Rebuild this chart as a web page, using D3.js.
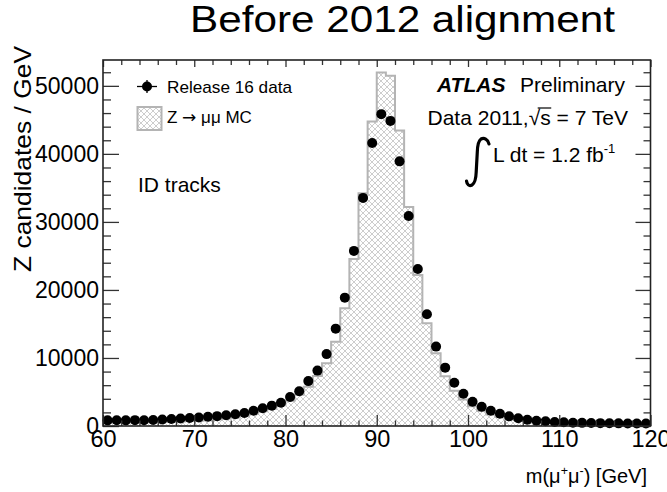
<!DOCTYPE html>
<html>
<head>
<meta charset="utf-8">
<script src="https://cdn.jsdelivr.net/npm/d3@7"></script>
<style>
  html, body { margin: 0; padding: 0; background: #fff; }
  svg { display: block; }
  text { font-family: "Liberation Sans", Arial, Helvetica, sans-serif; fill: #000; }
</style>
</head>
<body>
<svg id="chart" width="667" height="492"></svg>
<script>
// Dimuon invariant-mass spectrum, 1 GeV bins from 60 to 120 GeV
const binLow = d3.range(60, 120, 1);

// Release 16 data, Z candidates per GeV
const dataCounts = [
  830, 840, 830, 860, 850, 880, 960, 1030, 1100, 1180,
  1260, 1350, 1450, 1580, 1720, 1900, 2250, 2600, 2990, 3430,
  4260, 5100, 6600, 8140, 10570, 14310, 18870, 25740, 33530, 41600,
  45840, 44850, 38900, 30880, 23090, 16420, 11670, 8580, 6370, 4750,
  3570, 2840, 2250, 1810, 1420, 1130, 930, 780, 690, 590,
  540, 490, 460, 440, 420, 400, 390, 380, 370, 360
];

// Z -> mu mu Monte Carlo prediction, Z candidates per GeV
const mcCounts = [
  490, 500, 510, 530, 550, 570, 600, 630, 670, 720,
  780, 850, 950, 1080, 1250, 1470, 1750, 2150, 2550, 3050,
  3700, 4600, 5780, 7350, 9220, 12400, 17300, 24560, 34220, 44750,
  51960, 51470, 43430, 32200, 22200, 15100, 10700, 7300, 5200, 3900,
  2900, 2200, 1700, 1350, 1080, 880, 720, 600, 510, 440,
  390, 350, 320, 300, 280, 265, 250, 240, 230, 220
];

const xMajorTicks = [60, 70, 80, 90, 100, 110, 120];
const xMinorTicks = d3.range(62, 120, 2).filter(v => v % 10 !== 0);
const yMajorTicks = [0, 10000, 20000, 30000, 40000, 50000];
const yMinorTicks = d3.range(2000, 54000, 2000).filter(v => v % 10000 !== 0);

const svg = d3.select("#chart");
const L = 103, R = 650.5, T = 60, B = 426;

const x = d3.scaleLinear().domain([60, 120]).range([L, R]);
const y = d3.scaleLinear().domain([0, 53800]).range([B, T]);

// cross-hatch pattern for the MC histogram
const defs = svg.append("defs");
const pat = defs.append("pattern")
  .attr("id", "hatch").attr("patternUnits", "userSpaceOnUse")
  .attr("width", 6).attr("height", 6);
pat.append("rect").attr("width", 6).attr("height", 6).attr("fill", "#fff");
pat.append("path").attr("d", "M0,0 L6,6 M6,0 L0,6")
  .attr("stroke", "#cdcdcd").attr("stroke-width", 1);

// MC histogram (step outline)
const mcPts = binLow.map((b, i) => [b, mcCounts[i]]).concat([[120, mcCounts[mcCounts.length - 1]]]);
const area = d3.area()
  .x(d => x(d[0])).y0(y(0)).y1(d => y(d[1]))
  .curve(d3.curveStepAfter);
svg.append("path").datum(mcPts).attr("d", area).attr("fill", "url(#hatch)");
const stepLine = d3.line().x(d => x(d[0])).y(d => y(d[1])).curve(d3.curveStepAfter);
svg.append("path").datum(mcPts).attr("d", stepLine)
  .attr("fill", "none").attr("stroke", "#b4b4b4").attr("stroke-width", 2);

// data points
svg.append("g").selectAll("circle")
  .data(binLow.map((b, i) => [b + 0.5, dataCounts[i]]))
  .join("circle")
  .attr("cx", d => x(d[0])).attr("cy", d => y(d[1])).attr("r", 5)
  .attr("fill", "#000");

// axes: ticks drawn inward on all four sides
const tickColor = "#333";
function axisG(axis, tx, ty) {
  const g = svg.append("g").attr("transform", `translate(${tx},${ty})`).call(axis);
  g.select(".domain").remove();
  g.selectAll(".tick line").attr("stroke", tickColor).attr("stroke-width", 1.3);
  return g;
}
// bottom
const bx = axisG(d3.axisBottom(x).tickValues(xMajorTicks).tickSizeInner(-11).tickSizeOuter(0)
  .tickFormat(d3.format("d")), 0, B);
bx.selectAll("text").attr("font-size", 23.5).attr("font-family", null).attr("dy", "0.71em").attr("y", 4.5);
axisG(d3.axisBottom(x).tickValues(xMinorTicks).tickSizeInner(-5.5).tickSizeOuter(0).tickFormat(""), 0, B);
// top
axisG(d3.axisTop(x).tickValues(xMajorTicks).tickSizeInner(-7).tickSizeOuter(0).tickFormat(""), 0, T);
axisG(d3.axisTop(x).tickValues(xMinorTicks).tickSizeInner(-5).tickSizeOuter(0).tickFormat(""), 0, T);
// left
const ly = axisG(d3.axisLeft(y).tickValues(yMajorTicks).tickSizeInner(-16).tickSizeOuter(0)
  .tickFormat(d3.format("d")), L, 0);
ly.selectAll("text").attr("font-size", 23).attr("font-family", null).attr("x", -4);
axisG(d3.axisLeft(y).tickValues(yMinorTicks).tickSizeInner(-8).tickSizeOuter(0).tickFormat(""), L, 0);
// right
axisG(d3.axisRight(y).tickValues(yMajorTicks).tickSizeInner(-15).tickSizeOuter(0).tickFormat(""), R, 0);
axisG(d3.axisRight(y).tickValues(yMinorTicks).tickSizeInner(-7).tickSizeOuter(0).tickFormat(""), R, 0);

// frame
svg.append("rect").attr("x", L).attr("y", T).attr("width", R - L).attr("height", B - T)
  .attr("fill", "none").attr("stroke", "#222").attr("stroke-width", 1.6);

// axis titles
svg.append("text")
  .attr("transform", `translate(31,272) rotate(-90)`)
  .attr("font-size", 24).attr("textLength", 226).attr("lengthAdjust", "spacingAndGlyphs")
  .text("Z candidates / GeV");

const xt = svg.append("text").attr("x", 647).attr("y", 483).attr("text-anchor", "end").attr("font-size", 20);
xt.append("tspan").text("m(\u03bc");
xt.append("tspan").attr("font-size", 12.5).attr("dy", -8).text("+");
xt.append("tspan").attr("dy", 8).text("\u03bc");
xt.append("tspan").attr("font-size", 12.5).attr("dy", -8).text("-");
xt.append("tspan").attr("dy", 8).text(") [GeV]");

// title
svg.append("text").attr("x", 190).attr("y", 32)
  .attr("font-family", "Lato, 'Open Sans', sans-serif").attr("font-size", 37)
  .attr("textLength", 425).attr("lengthAdjust", "spacingAndGlyphs")
  .text("Before 2012 alignment");

// legend
svg.append("line").attr("x1", 137).attr("x2", 157).attr("y1", 86.5).attr("y2", 86.5)
  .attr("stroke", "#000").attr("stroke-width", 1.3);
svg.append("line").attr("x1", 147).attr("x2", 147).attr("y1", 80).attr("y2", 93)
  .attr("stroke", "#000").attr("stroke-width", 1.3);
svg.append("circle").attr("cx", 147).attr("cy", 86.5).attr("r", 5).attr("fill", "#000");
svg.append("text").attr("x", 167).attr("y", 93).attr("font-size", 17)
  .attr("textLength", 125).attr("lengthAdjust", "spacingAndGlyphs").text("Release 16 data");

svg.append("rect").attr("x", 137.5).attr("y", 107).attr("width", 24).attr("height", 23)
  .attr("fill", "url(#hatch)").attr("stroke", "#b4b4b4").attr("stroke-width", 2);
const mcLab = svg.append("text").attr("x", 167).attr("y", 123).attr("font-size", 17);
mcLab.append("tspan").text("Z ");
mcLab.append("tspan").attr("font-family", "'DejaVu Sans', sans-serif").text("\u2192");
mcLab.append("tspan").text(" \u03bc\u03bc MC");

svg.append("text").attr("x", 138).attr("y", 192).attr("font-size", 21).text("ID tracks");

// ATLAS label block
svg.append("text").attr("x", 437).attr("y", 91.7).attr("font-size", 21)
  .attr("font-weight", "bold").attr("font-style", "italic").text("ATLAS");
svg.append("text").attr("x", 520).attr("y", 91.7).attr("font-size", 21).text("Preliminary");

const dt = svg.append("text").attr("x", 628).attr("y", 125).attr("text-anchor", "end").attr("font-size", 21);
dt.append("tspan").text("Data 2011,\u221a");
dt.append("tspan").text("s");
dt.append("tspan").text(" = 7 TeV");
// overline of the square root
{
  const full = dt.node();
  const n1 = "Data 2011,\u221a".length;
  const end = full.getEndPositionOfChar(n1);
  const rootStart = full.getStartPositionOfChar(n1 - 1);
  svg.append("line").attr("x1", rootStart.x + 9).attr("x2", end.x + 0.5)
    .attr("y1", 125 - 17).attr("y2", 125 - 17).attr("stroke", "#000").attr("stroke-width", 1.2);
}

// integral sign
svg.append("path")
  .attr("d", "M489,144 C488,139 484,137.5 481,139 C478,141 477.5,146 477.3,152 L476.2,172 C476,178 475.5,183 472,185 C469,186.5 467,184.5 466.5,181")
  .attr("fill", "none").attr("stroke", "#000").attr("stroke-width", 3.2).attr("stroke-linecap", "round");
const lum = svg.append("text").attr("x", 493).attr("y", 161.7).attr("font-size", 21);
lum.append("tspan").text("L dt = 1.2 fb");
lum.append("tspan").attr("font-size", 13).attr("dy", -9).text("-1");
</script>
</body>
</html>
